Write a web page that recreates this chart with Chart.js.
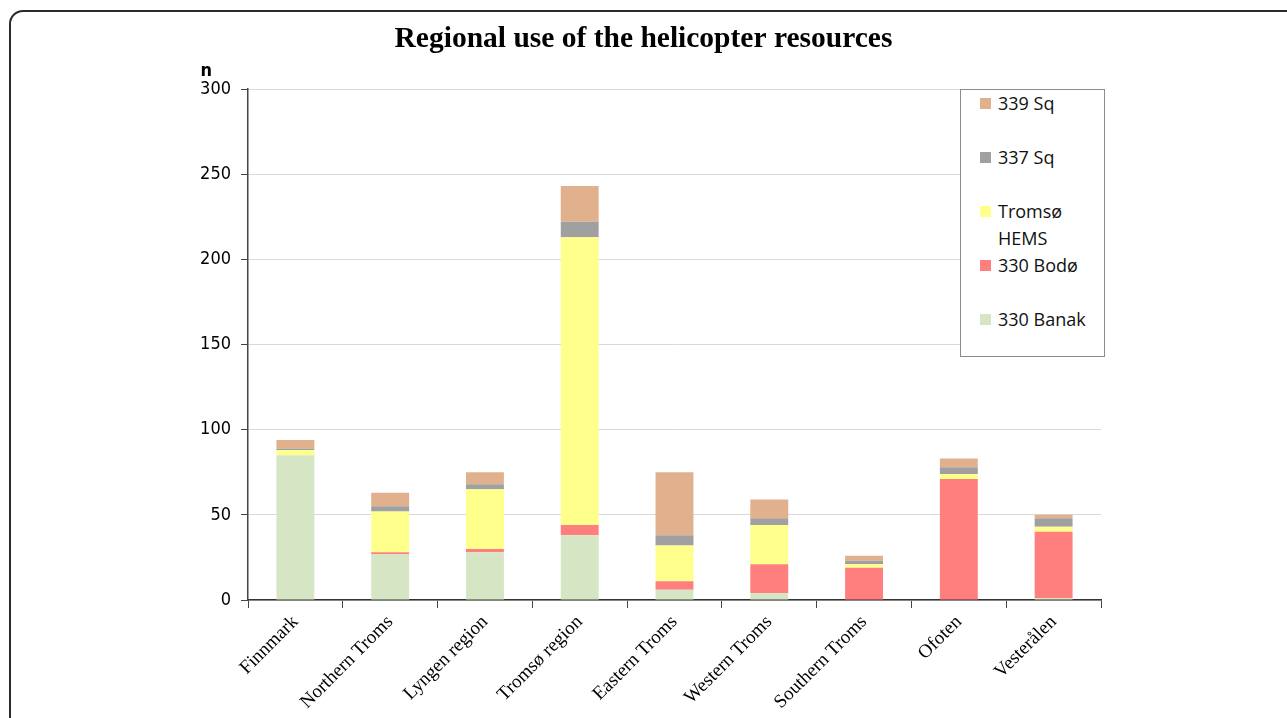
<!DOCTYPE html>
<html>
<head>
<meta charset="utf-8">
<script src="https://cdn.jsdelivr.net/npm/chart.js@4.4.0/dist/chart.umd.min.js"></script>
<style>
  html, body { margin: 0; padding: 0; background: #fff; }
  #wrap { position: relative; width: 1287px; height: 718px; overflow: hidden; }
  #frame { position: absolute; left: 9px; top: 10px; width: 1300px; height: 760px;
           border: 2px solid #2a2a2a; border-top-left-radius: 14px; box-sizing: border-box; }
  canvas { position: absolute; left: 0; top: 0; }
  #legend { position: absolute; left: 960px; top: 89px; width: 145px; height: 268px;
            border: 1px solid #8c8c8c; box-sizing: border-box; background: #fff;
            font-family: "Open Sans", sans-serif; font-size: 18px; color: #111; }
  .li { position: absolute; left: 19px; display: flex; align-items: flex-start; line-height: 27px; }
  .sw { width: 11px; height: 11px; margin-right: 7px; margin-top: 8px; flex: none; }
</style>
</head>
<body>
<div id="wrap">
  <div id="frame"></div>
  <canvas id="c" width="1287" height="718"></canvas>
  <div id="legend"></div>
</div>
<script>
const categories = ["Finnmark", "Northern Troms", "Lyngen region", "Tromsø region", "Eastern Troms", "Western Troms", "Southern Troms", "Ofoten", "Vesterålen"];
const banak330 = [85, 27, 28, 38, 6, 4, 0, 0, 1];
const bodo330  = [0, 1, 2, 6, 5, 17, 19, 71, 39];
const tromsoHEMS = [3, 24, 35, 169, 21, 23, 2, 3, 3];
const sq337 = [1, 3, 3, 9, 6, 4, 2, 4, 5];
const sq339 = [5, 8, 7, 21, 37, 11, 3, 5, 2];
const yTicks = [0, 50, 100, 150, 200, 250, 300];
const titleText = "Regional use of the helicopter resources";
const yAxisLabel = "n";

const seriesNames = ["330 Banak", "330 Bodø", "Tromsø HEMS", "337 Sq", "339 Sq"];
const seriesData = [banak330, bodo330, tromsoHEMS, sq337, sq339];
const seriesColors = ["#d6e6c4", "#ff7f7f", "#ffff8c", "#a0a0a0", "#e1b08d"];

const datasets = seriesNames.map((n, i) => ({
  label: n, data: seriesData[i], backgroundColor: seriesColors[i],
  borderWidth: 0, barPercentage: 0.4, categoryPercentage: 1.0
}));

const textPlugin = {
  id: 'texts',
  afterDraw(chart) {
    const ctx = chart.ctx;
    ctx.save();
    ctx.fillStyle = '#000';
    ctx.textAlign = 'center';
    ctx.textBaseline = 'middle';
    ctx.font = 'bold 29.5px "Liberation Serif", serif';
    ctx.fillText(titleText, 643.5, 39);
    ctx.font = 'bold 18px "DejaVu Sans Condensed", "DejaVu Sans", sans-serif';
    ctx.textAlign = 'right';
    ctx.fillText(yAxisLabel, 212, 71);
    ctx.restore();
  }
};

new Chart(document.getElementById('c'), {
  type: 'bar',
  data: { labels: categories, datasets },
  options: {
    responsive: false, animation: false,
    layout: { padding: { top: 89, right: 186, bottom: 0, left: 0 } },
    plugins: { legend: { display: false }, title: { display: false }, tooltip: { enabled: false } },
    scales: {
      x: {
        stacked: true,
        afterFit: s => { s.height = 118; },
        grid: { offset: true, drawOnChartArea: false, tickLength: 8, color: '#444', lineWidth: 1 },
        border: { color: '#333', width: 1.5 },
        ticks: { minRotation: 45, maxRotation: 45, autoSkip: false, padding: 3,
                 color: '#000', font: { family: '"Liberation Serif", serif', size: 19 } }
      },
      y: {
        stacked: true, min: 0, max: 300,
        afterFit: s => { s.width = 248; },
        afterBuildTicks: s => { s.ticks = yTicks.map(v => ({ value: v })); },
        grid: { color: '#d9d9d9', tickColor: '#444', tickLength: 7, lineWidth: 1 },
        border: { color: '#444', width: 1.5 },
        ticks: { padding: 10, color: '#000', font: { family: '"DejaVu Sans Condensed", "DejaVu Sans", sans-serif', size: 18 } }
      }
    }
  },
  plugins: [textPlugin]
});

// legend (reverse order, like the reference)
const lg = document.getElementById('legend');
const legendTops = [0, 54, 108, 162, 216];
[4, 3, 2, 1, 0].forEach((idx, k) => {
  const d = document.createElement('div');
  d.className = 'li';
  d.style.top = legendTops[k] + 'px';
  const sw = document.createElement('div');
  sw.className = 'sw';
  sw.style.background = seriesColors[idx];
  const t = document.createElement('div');
  t.innerHTML = seriesNames[idx] === "Tromsø HEMS" ? "Tromsø<br>HEMS" : seriesNames[idx];
  d.appendChild(sw); d.appendChild(t);
  lg.appendChild(d);
});
</script>
</body>
</html>
